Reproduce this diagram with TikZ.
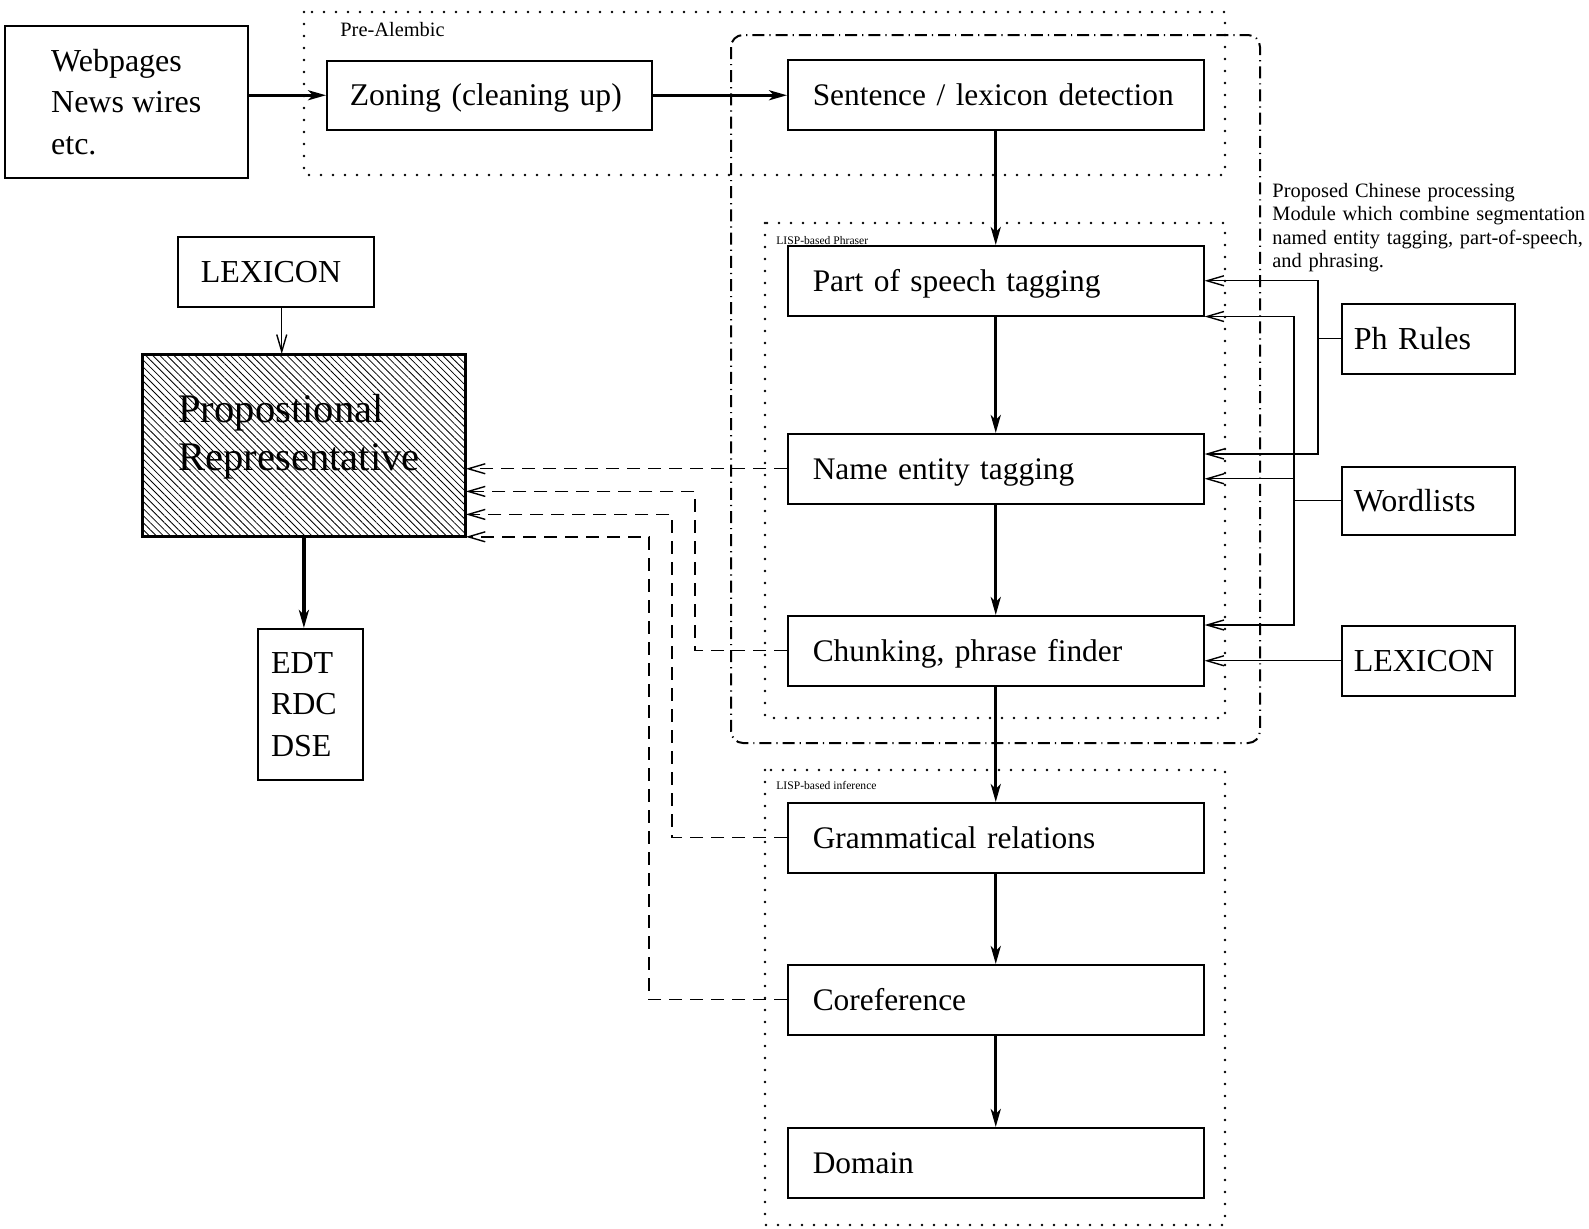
\documentclass[tikz,border=0pt]{standalone}
\usepackage{fontspec}
\setmainfont{Liberation Serif}
\usetikzlibrary{arrows.meta,patterns.meta,calc}
\begin{document}
\begin{tikzpicture}[x=0.5pt, y=-0.5pt,
 box/.style={draw, line width=0.75pt, rectangle, inner sep=0pt, anchor=north west, align=left, font=\fontsize{16}{20.8}\selectfont},
 oneline/.style={text height=10.6pt, text depth=0pt},
 pipe/.style={box, oneline, minimum width=208pt, minimum height=35pt, text width=183pt, font=\fontsize{15.7}{20}\selectfont},
 side/.style={box, oneline, minimum width=86.5pt, minimum height=35pt, text width=74.5pt},
 dotbox/.style={line width=1.3pt, line cap=round, dash pattern=on 0pt off 6pt},
 modbox/.style={line width=1pt, dash pattern=on 6pt off 2.5pt on 0.6pt off 2.5pt, rounded corners=6pt},
 flow/.style={line width=1.6pt, -{Stealth[length=9pt,width=5pt,inset=2.5pt]}},
 feed/.style={line width=0.7pt, -{Straight Barb[length=8.5pt,width=5pt]}},
 wire/.style={line width=0.7pt},
 backref/.style={feed, dash pattern=on 6.5pt off 4pt},
 smalltext/.style={inner sep=0pt, anchor=base west, font=\fontsize{10.2}{11.8}\selectfont, align=left},
 tinytext/.style={inner sep=0pt, anchor=base west, font=\fontsize{5.8}{7}\selectfont}
]
\useasboundingbox (0,0) rectangle (1589,1228);
\clip (0,0) rectangle (1589,1228);

% frames
\draw[dotbox] (304,12) rectangle (1225,175);
\draw[dotbox] (765,223) rectangle (1225,718);
\draw[dotbox] (765,770) rectangle (1225,1225);
\draw[modbox] (731,35) rectangle (1260,743);

% nodes
\node[box, minimum width=121.5pt, minimum height=76pt] (web) at (4,25) {Webpages\\News wires\\etc.};
\node[box, oneline, minimum width=162.5pt, minimum height=34.5pt, text width=139.5pt, font=\fontsize{15.8}{20}\selectfont] (zon) at (326,60) {\mbox{Zoning (cleaning up)}};
\node[pipe] (sen) at (787,59) {\mbox{Sentence / lexicon detection}};
\node[pipe] (pos) at (787,245) {\mbox{Part of speech tagging}};
\node[pipe] (ne) at (787,433) {\mbox{Name entity tagging}};
\node[pipe] (chk) at (787,615) {\mbox{Chunking, phrase finder}};
\node[pipe] (gr) at (787,802) {\mbox{Grammatical relations}};
\node[pipe] (cor) at (787,964) {Coreference};
\node[pipe] (dom) at (787,1127) {Domain};

\node[box, oneline, minimum width=98pt, minimum height=35pt, text width=75pt] (lexl) at (177,236) {LEXICON};
\node[box, line width=1.2pt, pattern={Lines[angle=-45, distance=2.5pt, line width=0.4pt]}, minimum width=161.5pt, minimum height=91pt] (prop) at (142,354) {};
\node[inner sep=0pt, anchor=base west, text width=150pt, align=left, font=\fontsize{20.3}{24}\selectfont] (ptxt) at (178,422) {Propostional\\Representative};
\node[box, line width=1pt, minimum width=52.5pt, minimum height=75.5pt, text width=39.5pt] (edt) at (257,628) {EDT\\RDC\\DSE};

\node[side] (ph) at (1341,303) {\mbox{Ph Rules}};
\node[side, minimum height=34pt] (wd) at (1341,466) {Wordlists};
\node[side] (lexr) at (1341,625) {LEXICON};

% labels
\node[smalltext] (pre) at (340,36) {Pre-Alembic};
\node[tinytext] (lp) at (776,244) {LISP-based Phraser};
\node[tinytext] (li) at (776,789) {LISP-based inference};
\node[smalltext, text width=170pt] (note) at (1272,197) {Proposed Chinese processing\\Module which combine segmentation\\named entity tagging, part-of-speech,\\and phrasing.};

% main flow
\draw[flow] (web.east |- zon.west) -- (zon.west);
\draw[flow] (zon.east) -- (zon.east -| sen.west);
\draw[flow] (sen.south) -- (pos.north);
\draw[flow] (pos.south) -- (ne.north);
\draw[flow] (ne.south) -- (chk.north);
\draw[flow] (chk.south) -- (gr.north);
\draw[flow] (gr.south) -- (cor.north);
\draw[flow] (cor.south) -- (dom.north);
\draw[flow] (prop.south) -- (prop.south |- edt.north);
\draw[feed] ([xshift=3pt]lexl.south) -- ([xshift=3pt]lexl.south |- prop.north);

% dashed back references
\draw[backref] (ne.west) -- (ne.west -| prop.east);
\draw[backref] (chk.west) -- ++(-92,0) |- ($(prop.east)+(0,46)$);
\draw[backref] (gr.west) -- ++(-115,0) |- ($(prop.east)+(0,69)$);
\draw[backref] (cor.west) -- ++(-138,0) |- (prop.south east);

% resources on the right
\coordinate (phj) at ($(ph.west)+(-23,0)$);
\draw[wire] (ph.west) -- (phj);
\draw[feed] (phj) |- (pos.east);
\draw[feed] (phj) |- ($(ne.north east)+(0,21)$);
\coordinate (wdj) at ($(wd.west)+(-47,0)$);
\draw[wire] (wd.west) -- (wdj);
\draw[feed] (wdj) |- (pos.south east);
\draw[feed] (wdj) |- ($(ne.east)+(0,10)$);
\draw[feed] (wdj) |- ($(chk.north east)+(0,10)$);
\draw[feed] (lexr.west) -- (lexr.west -| chk.east);
\end{tikzpicture}
\end{document}
